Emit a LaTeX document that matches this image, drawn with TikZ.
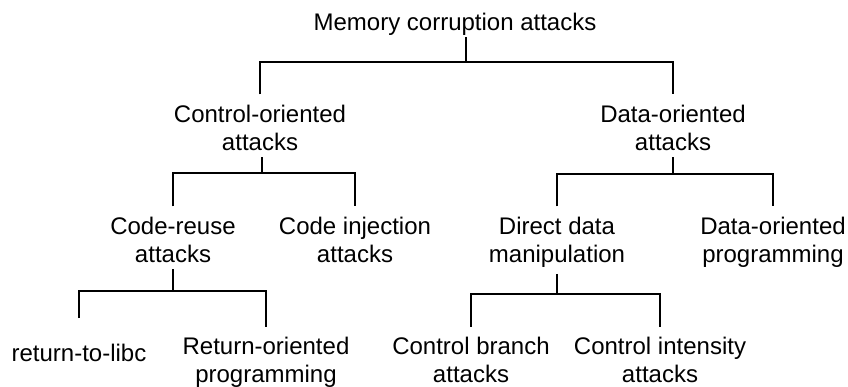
\documentclass[tikz,border=0pt]{standalone}
\usepackage{fontspec}
\setmainfont{Liberation Sans}
\begin{document}
\begin{tikzpicture}[x=1pt,y=-1pt,
  label/.style={inner sep=0pt, anchor=north, align=center,
    font=\fontsize{24}{28}\selectfont},
  branch/.style={line width=2.7pt, line join=miter},
  leg/.style={branch, shorten <=10pt, shorten >=10pt},
  stem/.style={branch, shorten <=6.5pt}]
\useasboundingbox (0,0) rectangle (848,387);

% categories
\node[label] (mem) at (455,12.5) {Memory corruption attacks};
\node[label] (co)  at (260,104.5) {Control-oriented\\attacks};
\node[label] (do)  at (673,104.5) {Data-oriented\\attacks};
\node[label] (cr)  at (173,216.5) {Code-reuse\\attacks};
\node[label] (ci)  at (355,216.5) {Code injection\\attacks};
\node[label] (ddm) at (557,216.5) {Direct data\\manipulation};
\node[label] (dop) at (773,216.5) {Data-oriented\\programming};
\node[label, inner ysep=15.5pt] (rtl) at (79,328) {return-to-libc};
\node[label] (rop) at (266,336.5) {Return-oriented\\programming};
\node[label] (cb)  at (471,336.5) {Control branch\\attacks};
\node[label] (cin) at (660,336.5) {Control intensity\\attacks};

% branch points
\coordinate (j0) at (466,62);
\coordinate (j1) at (262,173);
\coordinate (j2) at (673,174);
\coordinate (j3) at (173,291);
\coordinate (j4) at (557,294);

% tree connectors
\draw[branch, shorten <=2pt] (mem.south -| j0) -- (j0);
\draw[leg] (co.north) |- (j0) -| (do.north);

\draw[stem] (co.south -| j1) -- (j1);
\draw[leg] (cr.north) |- (j1) -| (ci.north);

\draw[stem] (do.south -| j2) -- (j2);
\draw[leg] (ddm.north) |- (j2) -| (dop.north);

\draw[stem] (cr.south -| j3) -- (j3);
\draw[leg] (rtl.north) |- (j3) -| (rop.north);

\draw[stem] (ddm.south -| j4) -- (j4);
\draw[leg] (cb.north) |- (j4) -| (cin.north);
\end{tikzpicture}
\end{document}
